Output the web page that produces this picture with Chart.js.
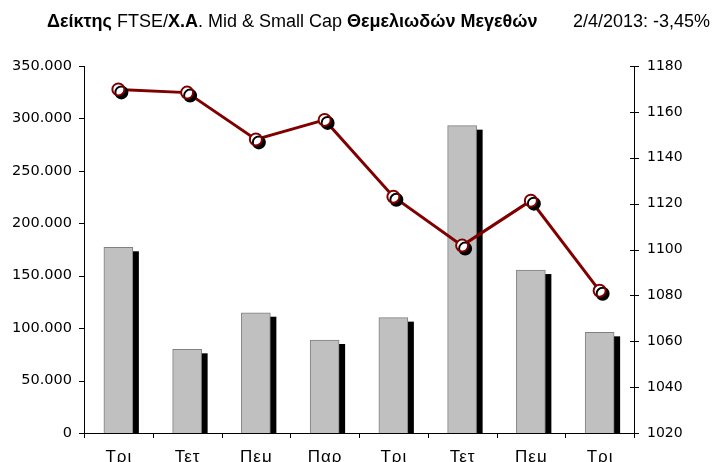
<!DOCTYPE html>
<html>
<head>
<meta charset="utf-8">
<script src="https://cdn.jsdelivr.net/npm/chart.js@4.4.1/dist/chart.umd.min.js"></script>
<style>
  html, body { margin: 0; padding: 0; background: #fff; }
  #wrap { position: relative; width: 717px; height: 462px; overflow: hidden; }
  #title { position: absolute; left: 47px; top: 11px; font-family: "Liberation Sans Narrow", "Arial Narrow", "Liberation Sans", sans-serif; font-size: 18px; color: #000; white-space: nowrap; }
  #date { position: absolute; left: 573px; top: 11px; font-family: "Liberation Sans Narrow", "Arial Narrow", "Liberation Sans", sans-serif; font-size: 18px; color: #000; white-space: nowrap; }
  canvas { position: absolute; left: 0; top: 0; }
</style>
</head>
<body>
<div id="wrap">
  <canvas id="c" width="717" height="462"></canvas>
  <div id="title"><b>Δείκτης</b> FTSE/<b>Χ.Α</b>. Mid &amp; Small Cap <b>Θεμελιωδών Μεγεθών</b></div>
  <div id="date">2/4/2013: -3,45%</div>
</div>
<script>
const categories = ['Τρι', 'Τετ', 'Πεμ', 'Παρ', 'Τρι', 'Τετ', 'Πεμ', 'Τρι'];
const volumeValues = [177100, 79800, 114700, 88700, 110000, 293100, 155400, 96000];
const indexValues = [1169.8, 1168.4, 1148.0, 1156.5, 1123.0, 1101.7, 1121.3, 1082.0];
const leftTicks = { min: 0, max: 350000, step: 50000 };
const rightTicks = { min: 1020, max: 1180, step: 20 };

function fmtThousands(v) {
  return String(Math.round(v)).replace(/\B(?=(\d{3})+(?!\d))/g, '.');
}

const shadowPlugin = {
  id: 'shadow',
  beforeDatasetDraw(chart, args) {
    const ds = chart.data.datasets[args.index];
    const ctx = chart.ctx;
    if (ds.barShadow) {
      const meta = chart.getDatasetMeta(args.index);
      const area = chart.chartArea;
      ctx.save();
      ctx.beginPath();
      ctx.rect(area.left, area.top, area.right - area.left, area.bottom - area.top);
      ctx.clip();
      ctx.fillStyle = '#000';
      meta.data.forEach(el => {
        const p = el.getProps(['x', 'y', 'base', 'width'], true);
        const left = p.x - p.width / 2 + ds.barShadow[0];
        const top = p.y + ds.barShadow[1];
        ctx.fillRect(left, top, p.width, p.base - p.y);
      });
      ctx.restore();
    }
    if (ds.shadowOffset) {
      ctx.save();
      ctx.shadowColor = '#000';
      ctx.shadowBlur = 0;
      ctx.shadowOffsetX = ds.shadowOffset[0];
      ctx.shadowOffsetY = ds.shadowOffset[1];
    }
  },
  afterDatasetDraw(chart, args) {
    const ds = chart.data.datasets[args.index];
    if (ds.shadowOffset) chart.ctx.restore();
  }
};

const axisDecorPlugin = {
  id: 'axisDecor',
  afterDraw(chart) {
    const ctx = chart.ctx;
    const yL = chart.scales.y, yR = chart.scales.y1, x = chart.scales.x;
    ctx.save();
    ctx.strokeStyle = '#000';
    ctx.lineWidth = 1;
    ctx.beginPath();
    yL.ticks.forEach(t => {
      const py = Math.round(yL.getPixelForValue(t.value)) + 0.5;
      ctx.moveTo(yL.right - 5, py); ctx.lineTo(yL.right, py);
    });
    yR.ticks.forEach(t => {
      const py = Math.round(yR.getPixelForValue(t.value)) + 0.5;
      ctx.moveTo(yR.left - 4, py); ctx.lineTo(yR.left + 5, py);
    });
    for (let i = 0; i <= categories.length; i++) {
      const px = Math.round(x.getPixelForValue(i - 0.5)) + 0.5;
      ctx.moveTo(px, x.top); ctx.lineTo(px, x.top + 5);
    }
    ctx.stroke();
    // category labels, slightly letter-spaced like the original
    const spacing = 1;
    ctx.font = '17px "Liberation Sans", Arial, sans-serif';
    ctx.fillStyle = '#000';
    ctx.textAlign = 'center';
    ctx.textBaseline = 'alphabetic';
    if ('letterSpacing' in ctx) ctx.letterSpacing = spacing + 'px';
    x.getLabels().forEach((lab, i) => {
      const px = x.getPixelForValue(i) + spacing / 2;
      ctx.fillText(lab, px, 462);
    });
    ctx.restore();
  }
};

const tickFont = { family: '"DejaVu Sans", sans-serif', size: 14 };

new Chart(document.getElementById('c'), {
  data: {
    labels: categories,
    datasets: [
      {
        type: 'line',
        data: indexValues,
        yAxisID: 'y1',
        borderColor: '#800000',
        borderWidth: 3,
        pointRadius: 0,
        pointHoverRadius: 0,
        fill: false,
        tension: 0,
        order: 2
      },
      {
        type: 'line',
        data: indexValues,
        yAxisID: 'y1',
        showLine: false,
        pointRadius: 6,
        pointHoverRadius: 6,
        pointBackgroundColor: '#fff',
        pointBorderColor: '#800000',
        pointBorderWidth: 2,
        shadowOffset: [3, 3],
        order: 1
      },
      {
        type: 'bar',
        data: volumeValues,
        yAxisID: 'y',
        backgroundColor: '#c0c0c0',
        borderColor: '#808080',
        borderWidth: 1,
        barThickness: 29,
        barShadow: [6, 4],
        order: 3
      }
    ]
  },
  options: {
    responsive: false,
    animation: false,
    events: [],
    layout: { padding: { top: 66, left: 0, right: 0, bottom: 0 } },
    plugins: { legend: { display: false }, tooltip: { enabled: false }, title: { display: false } },
    scales: {
      x: {
        type: 'category',
        offset: true,
        grid: { display: false, drawTicks: false },
        border: { display: true, color: '#000', width: 1 },
        ticks: { display: false },
        afterFit(s) { s.height = 29; }
      },
      y: {
        type: 'linear',
        position: 'left',
        min: leftTicks.min, max: leftTicks.max,
        grid: { display: false, drawTicks: false },
        border: { display: true, color: '#000', width: 1 },
        ticks: { stepSize: leftTicks.step, color: '#000', font: { family: '"DejaVu Sans", sans-serif', size: 14.5 }, padding: 12, callback: v => fmtThousands(v) },
        afterFit(s) { s.width = 84; }
      },
      y1: {
        type: 'linear',
        position: 'right',
        min: rightTicks.min, max: rightTicks.max,
        grid: { display: false, drawTicks: false },
        border: { display: true, color: '#000', width: 1 },
        ticks: { stepSize: rightTicks.step, color: '#000', font: tickFont, padding: 13, callback: v => String(v) },
        afterFit(s) { s.width = 83; }
      }
    }
  },
  plugins: [shadowPlugin, axisDecorPlugin]
});
</script>
</body>
</html>
